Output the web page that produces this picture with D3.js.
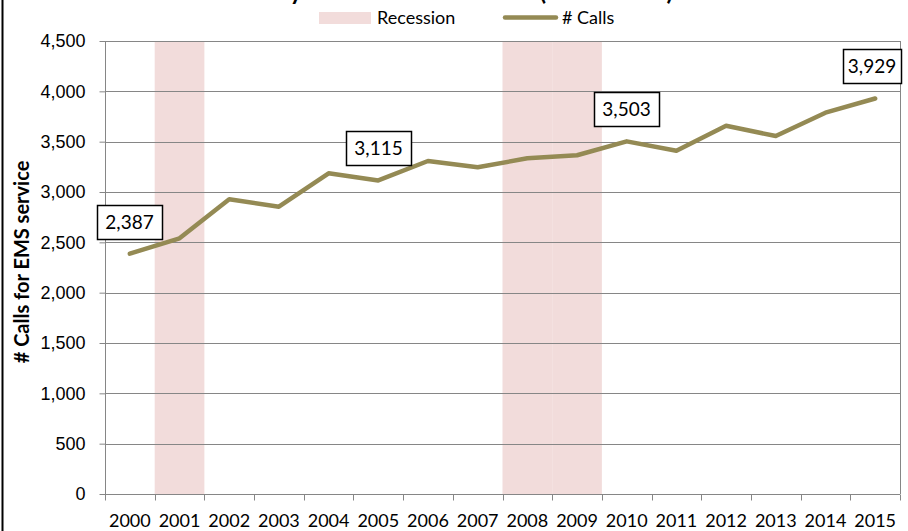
<!DOCTYPE html>
<html>
<head>
<meta charset="utf-8">
<script src="https://cdn.jsdelivr.net/npm/d3@7"></script>
<style>
  body { margin: 0; background: #fff; }
  svg { display: block; font-family: Lato, "Open Sans", sans-serif; }
  .axis path, .axis line { stroke: #868686; }
  .axis text { fill: #000; font-size: 18px; }
</style>
</head>
<body>
<div id="chart"></div>
<script>
// chart data
const years = ['2000','2001','2002','2003','2004','2005','2006','2007',
               '2008','2009','2010','2011','2012','2013','2014','2015'];
const calls = [2387, 2540, 2927, 2854, 3186, 3115, 3308, 3245,
               3335, 3365, 3503, 3410, 3658, 3556, 3788, 3929];
const recessionYears = ['2001', '2008', '2009'];
const labelledYears = ['2000', '2005', '2010', '2015'];
const yTicks = [0, 500, 1000, 1500, 2000, 2500, 3000, 3500, 4000, 4500];

const svg = d3.select('#chart')
    .append('svg')
    .attr('width', 908)
    .attr('height', 531);

const plot = {left: 105, right: 900, top: 41, bottom: 494};

const x = d3.scaleBand().domain(years).range([plot.left, plot.right]).padding(0);
const y = d3.scaleLinear().domain([0, 4500]).range([plot.bottom, plot.top]);

// outer chart border (left edge only visible)
svg.append('line')
    .attr('x1', 2.5).attr('x2', 2.5).attr('y1', 0).attr('y2', 531)
    .attr('stroke', '#000').attr('stroke-width', 2);

// title, mostly cut off above the frame
svg.append('text')
    .attr('x', 455).attr('y', 0)
    .attr('text-anchor', 'middle')
    .attr('font-size', 24).attr('font-weight', 'bold')
    .text('Yearly EMS Calls for Service (2000-2015)');

// recession shading
svg.selectAll('rect.recession')
    .data(recessionYears)
    .enter().append('rect')
    .attr('class', 'recession')
    .attr('x', d => x(d))
    .attr('width', x.bandwidth())
    .attr('y', y(4500))
    .attr('height', y(0) - y(4500))
    .attr('fill', '#F2DCDB');

// gridlines
svg.append('g')
    .selectAll('line')
    .data(yTicks.filter(d => d > 0))
    .enter().append('line')
    .attr('x1', plot.left).attr('x2', plot.right)
    .attr('y1', d => Math.round(y(d)) + 0.5).attr('y2', d => Math.round(y(d)) + 0.5)
    .attr('stroke', '#868686');

// right frame
svg.append('line')
    .attr('x1', plot.right + 0.5).attr('x2', plot.right + 0.5)
    .attr('y1', y(4500)).attr('y2', y(0))
    .attr('stroke', '#868686');

// y axis
svg.append('g')
    .attr('class', 'axis')
    .attr('transform', `translate(${plot.left + 0.5},0)`)
    .call(d3.axisLeft(y).tickValues(yTicks).tickSize(6).tickPadding(14)
        .tickFormat(d3.format(',')))
    .call(g => g.select('.domain').attr('d', `M0,${y(4500)}V${y(0)}`));

// x axis: ticks on band boundaries, labels at centres
const xAxis = svg.append('g')
    .attr('class', 'axis')
    .attr('transform', `translate(0,${Math.round(y(0)) + 0.5})`);
xAxis.append('line')
    .attr('x1', plot.left).attr('x2', plot.right)
    .attr('stroke', '#868686');
xAxis.selectAll('line.tick')
    .data(years.concat(['end']))
    .enter().append('line')
    .attr('class', 'tick')
    .attr('x1', d => d === 'end' ? plot.right + 0.5 : Math.round(x(d)) + 0.5)
    .attr('x2', d => d === 'end' ? plot.right + 0.5 : Math.round(x(d)) + 0.5)
    .attr('y1', 0).attr('y2', 6)
    .attr('stroke', '#868686');
xAxis.selectAll('text')
    .data(years)
    .enter().append('text')
    .attr('x', d => x(d) + x.bandwidth() / 2)
    .attr('y', 32)
    .attr('text-anchor', 'middle')
    .text(d => d);

// y axis title
svg.append('text')
    .attr('transform', 'translate(29,262) rotate(-90)')
    .attr('text-anchor', 'middle')
    .attr('font-size', 20).attr('font-weight', 'bold')
    .text('# Calls for EMS service');

// calls line
const line = d3.line()
    .x((d, i) => x(years[i]) + x.bandwidth() / 2)
    .y(d => y(d));

svg.append('path')
    .datum(calls)
    .attr('d', line)
    .attr('fill', 'none')
    .attr('stroke', '#948A54')
    .attr('stroke-width', 4.5)
    .attr('stroke-linejoin', 'round')
    .attr('stroke-linecap', 'round');

// data labels
const labels = svg.selectAll('g.label')
    .data(labelledYears)
    .enter().append('g')
    .attr('class', 'label');
labels.each(function(d) {
    const g = d3.select(this);
    const i = years.indexOf(d);
    const cx = x(d) + x.bandwidth() / 2;
    const cy = y(calls[i]);
    const left = Math.round(cx - 32.5);
    const w = Math.min(65, 901 - left);
    g.append('rect')
        .attr('x', left + 0.5).attr('y', Math.round(cy - 49) + 0.5)
        .attr('width', w).attr('height', 34)
        .attr('fill', '#fff').attr('stroke', '#000').attr('stroke-width', 1.5);
    g.append('text')
        .attr('x', left + w / 2).attr('y', cy - 25)
        .attr('text-anchor', 'middle')
        .attr('font-size', 19)
        .text(d3.format(',')(calls[i]));
});

// legend
const legend = svg.append('g');
legend.append('rect')
    .attr('x', 319).attr('y', 12).attr('width', 52).attr('height', 12)
    .attr('fill', '#F2DCDB');
legend.append('text')
    .attr('x', 377).attr('y', 24)
    .attr('font-size', 18)
    .text('Recession');
legend.append('line')
    .attr('x1', 505).attr('x2', 556).attr('y1', 17.5).attr('y2', 17.5)
    .attr('stroke', '#948A54').attr('stroke-width', 4.5)
    .attr('stroke-linecap', 'round');
legend.append('text')
    .attr('x', 562).attr('y', 24)
    .attr('font-size', 18)
    .text('# Calls');
</script>
</body>
</html>
